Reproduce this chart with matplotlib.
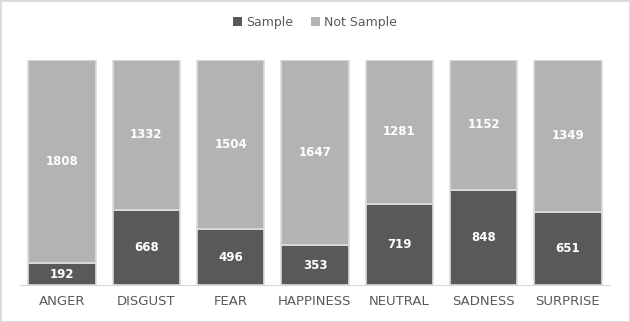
import numpy as np
import matplotlib
matplotlib.use('Agg')
import matplotlib.pyplot as plt
from matplotlib.patches import Rectangle, Patch

emotions = ["ANGER", "DISGUST", "FEAR", "HAPPINESS", "NEUTRAL", "SADNESS", "SURPRISE"]
sample = [192, 668, 496, 353, 719, 848, 651]
not_sample = [1808, 1332, 1504, 1647, 1281, 1152, 1349]

dark = "#595959"
light = "#b3b3b3"
edge = "#dcdcdc"

fig = plt.figure(figsize=(6.3, 3.22), dpi=100)
ax = fig.add_axes([0.0317, 0.115, 0.9365, 0.699])

x = np.arange(len(emotions))
ax.bar(x, sample, width=0.8, color=dark, edgecolor=edge, linewidth=1.2)
ax.bar(x, not_sample, width=0.8, bottom=sample, color=light, edgecolor=edge, linewidth=1.2)

for i in range(len(emotions)):
    ax.text(x[i], sample[i] / 2, str(sample[i]), ha='center', va='center',
            color='white', fontsize=8.5, fontweight='bold')
    ax.text(x[i], sample[i] + not_sample[i] / 2, str(not_sample[i]), ha='center', va='center',
            color='white', fontsize=8.5, fontweight='bold')

ax.set_xlim(-0.5, len(emotions) - 0.5)
ax.set_ylim(0, 2000)
ax.set_xticks(x)
ax.set_xticklabels(emotions, fontsize=9.5, color=dark)
ax.tick_params(axis='x', length=0, pad=7)
ax.set_yticks([])
for s in ["top", "left", "right"]:
    ax.spines[s].set_visible(False)
ax.spines["bottom"].set_color("#d9d9d9")

handles = [Patch(facecolor=dark, edgecolor='none', label="Sample"),
           Patch(facecolor=light, edgecolor='none', label="Not Sample")]
fig.legend(handles=handles, loc='upper center', bbox_to_anchor=(0.5, 0.985), ncol=2,
           frameon=False, fontsize=9, labelcolor=dark, handlelength=0.7, handleheight=0.7,
           handletextpad=0.3, columnspacing=1.5)

fig.patches.append(Rectangle((0, 0), 1, 1, transform=fig.transFigure, fill=False,
                             edgecolor="#d9d9d9", linewidth=2))

fig.savefig("out.png", dpi=100)
